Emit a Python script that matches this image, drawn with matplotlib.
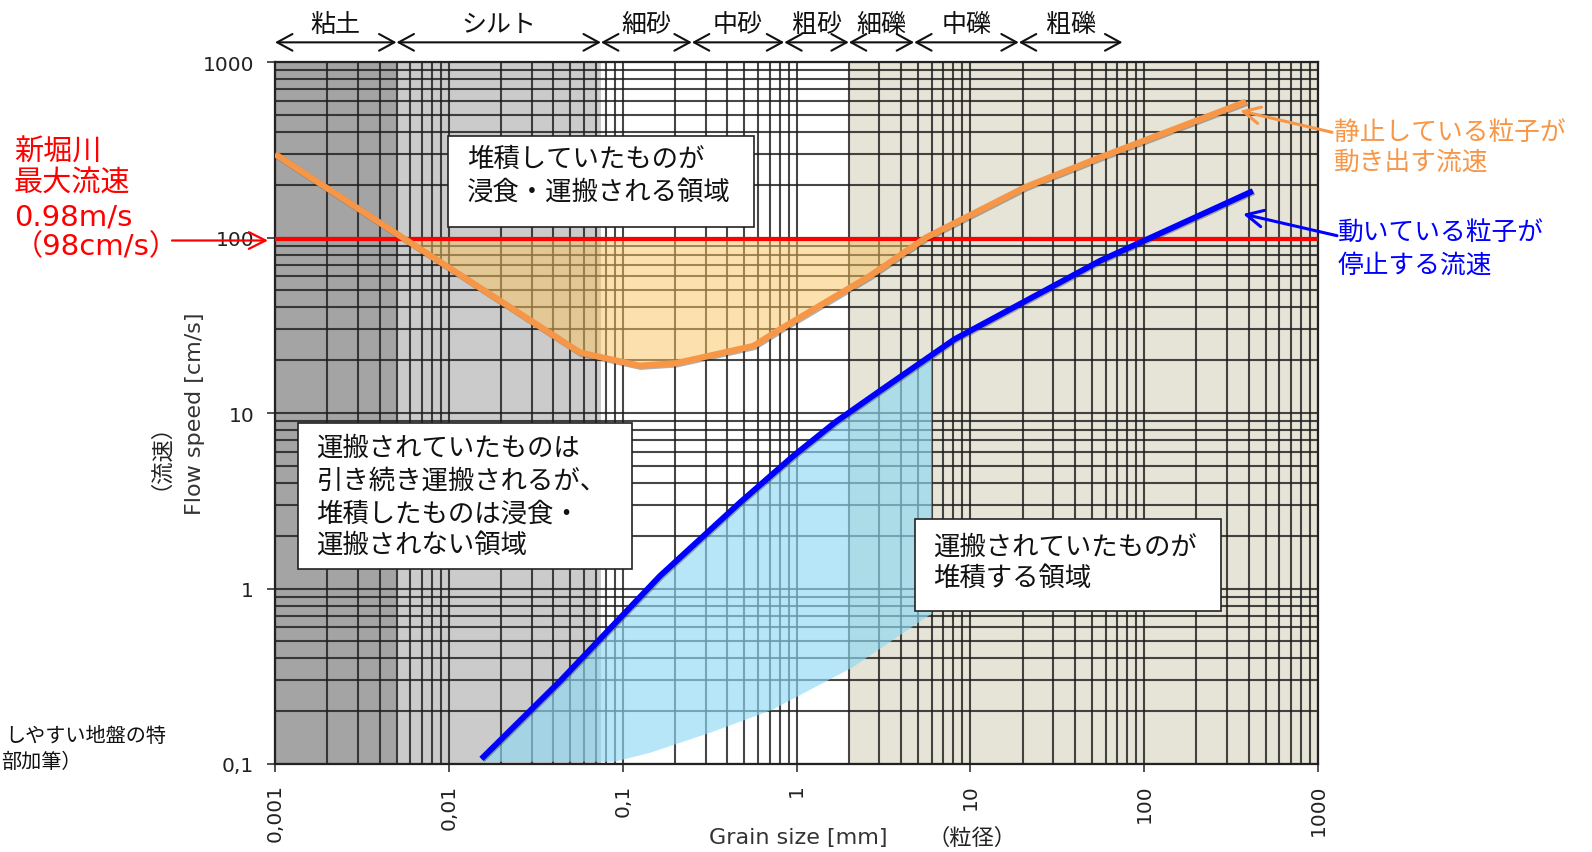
import numpy as np
import matplotlib
matplotlib.use("Agg")
import matplotlib.pyplot as plt
import matplotlib.patheffects as pe
from matplotlib.patches import Rectangle
from matplotlib.ticker import LogLocator, NullFormatter
from matplotlib.transforms import blended_transform_factory

plt.rcParams['font.family'] = ['DejaVu Sans', 'Noto Sans CJK JP']
JP = ['Noto Sans CJK JP', 'DejaVu Sans']

# ---- data -------------------------------------------------------------
# soil classes along the grain-size axis (mm)
class_bounds = [0.001, 0.005, 0.075, 0.25, 0.85, 2, 4.75, 19, 75]
class_names = ['粘土', 'シルト', '細砂', '中砂', '粗砂', '細礫', '中礫', '粗礫']

# shaded bands behind the grid
band_edges = [0.001, 0.005, 0.075, 2, 1000]
band_colors = ['#a4a4a4', '#cbcbcb', '#ffffff', '#e6e3d7']

# velocity at which resting particles start to move (erosion)
erosion_size = [0.001, 0.0054, 0.0568, 0.125, 0.202, 0.565, 0.805, 2.65, 5.57, 20.8, 55.8, 386]
erosion_speed = [299, 100, 22.1, 18.6, 19.2, 24.1, 30.0, 60.5, 100, 194, 286, 594]

# velocity at which moving particles come to rest (deposition)
deposition_size = [0.0154, 0.0437, 0.164, 0.473, 0.96, 1.68, 3.03, 8.1, 55.8, 422]
deposition_speed = [0.107, 0.297, 1.18, 3.09, 5.7, 8.9, 13.4, 26.3, 73.7, 184]

# lower edge of the deposition zone
settle_low_size = [0.0154, 0.09, 0.144, 0.32, 0.72, 2.1, 6.0]
settle_low_speed = [0.103, 0.103, 0.116, 0.151, 0.203, 0.355, 0.72]

# maximum flow speed of the river (cm/s)
river_max_speed = 98

x_ticks = [0.001, 0.01, 0.1, 1, 10, 100, 1000]
x_tick_labels = ['0,001', '0,01', '0,1', '1', '10', '100', '1000']
y_ticks = [0.1, 1, 10, 100, 1000]
y_tick_labels = ['0,1', '1', '10', '100', '1000']

# ---- helpers ----------------------------------------------------------
W, H = 1592, 853


def fx(px):
    return px / W


def fy(py):
    return 1 - py / H


def log_interp(x, xs, ys):
    return 10 ** np.interp(np.log10(x), np.log10(xs), np.log10(ys))


def log_crossings(xs, ys, level):
    lx, ly = np.log10(xs), np.log10(ys) - np.log10(level)
    out = []
    for i in range(len(xs) - 1):
        if ly[i] * ly[i + 1] < 0 or ly[i + 1] == 0:
            t = ly[i] / (ly[i] - ly[i + 1])
            out.append(10 ** (lx[i] + t * (lx[i + 1] - lx[i])))
    return out


# ---- figure -----------------------------------------------------------
fig = plt.figure(figsize=(W / 100, H / 100), dpi=100)
ax = fig.add_axes([fx(275), fy(765), (1318 - 275) / W, (765 - 63) / H])
ax.set_xscale('log')
ax.set_yscale('log')
ax.set_xlim(x_ticks[0], x_ticks[-1])
ax.set_ylim(y_ticks[0], y_ticks[-1])
ax.set_axisbelow(True)

for x0, x1, c in zip(band_edges[:-1], band_edges[1:], band_colors):
    ax.axvspan(x0, x1, color=c, zorder=0, lw=0)

ax.xaxis.set_minor_locator(LogLocator(base=10, subs=range(2, 10)))
ax.yaxis.set_minor_locator(LogLocator(base=10, subs=range(2, 10)))
ax.xaxis.set_minor_formatter(NullFormatter())
ax.yaxis.set_minor_formatter(NullFormatter())
ax.grid(which='both', color='#1e1e1e', lw=1.5, alpha=0.82)

ax.set_xticks(x_ticks)
ax.set_xticklabels(x_tick_labels, rotation=90)
ax.set_yticks(y_ticks)
ax.set_yticklabels(y_tick_labels)
ax.tick_params(which='major', direction='out', length=6, width=1.2,
               color='#333333', labelsize=14.5, labelcolor='#222222')
ax.tick_params(axis='x', pad=8)
ax.tick_params(axis='y', pad=9)
ax.tick_params(which='minor', length=0)
for s in ax.spines.values():
    s.set_color('#222222')
    s.set_linewidth(1.6)

# erosion zone below the river's max speed
cx = log_crossings(erosion_size, erosion_speed, river_max_speed)
inner = [(x, y) for x, y in zip(erosion_size, erosion_speed) if cx[0] < x < cx[1]]
fill_x = [cx[0]] + [p[0] for p in inner] + [cx[1]]
fill_y = [river_max_speed] + [p[1] for p in inner] + [river_max_speed]
ax.fill_between(fill_x, fill_y, river_max_speed, color='#fbc561', alpha=0.5,
                lw=0, zorder=2)

# deposition zone
right = settle_low_size[-1]
up = [(x, y) for x, y in zip(deposition_size, deposition_speed) if x < right]
up.append((right, log_interp(right, deposition_size, deposition_speed)))
poly_x = [p[0] for p in up] + settle_low_size[::-1]
poly_y = [p[1] for p in up] + settle_low_speed[::-1]
ax.fill(poly_x, poly_y, color='#8fd9f3', alpha=0.65, lw=0, zorder=2)

ax.axhline(river_max_speed, color='#ff0000', lw=3, zorder=3)

shadow = [pe.SimpleLineShadow(offset=(0.8, -0.8), shadow_color='#222222', alpha=0.35),
          pe.Normal()]
ax.plot(erosion_size, erosion_speed, color='#f79646', lw=4.5, zorder=4,
        solid_capstyle='butt', path_effects=shadow)
ax.plot(deposition_size, deposition_speed, color='#0000ff', lw=4.2, zorder=4,
        solid_capstyle='butt', path_effects=shadow)

# soil classes above the plot
bt = blended_transform_factory(ax.transData, ax.transAxes)
for b0, b1, name in zip(class_bounds[:-1], class_bounds[1:], class_names):
    ax.annotate('', xy=(b1, 1.028), xytext=(b0, 1.028), xycoords=bt, textcoords=bt,
                arrowprops=dict(arrowstyle='<->,head_length=1.1,head_width=0.6',
                                lw=1.5, color='#111111', shrinkA=0, shrinkB=0),
                annotation_clip=False)
    ax.text(np.sqrt(b0 * b1), 1.054, name, transform=bt, ha='center', va='center',
            fontsize=18, family=JP, color='#111111')

# axis titles
fig.text(fx(195), fy(414), 'Flow speed [cm/s]', rotation=90, ha='center', va='center',
         fontsize=16, color='#333333')
fig.text(fx(149), fy(446), '（流速）', rotation=90, ha='center', va='center',
         fontsize=16, family=JP, color='#222222')
fig.text(fx(798), fy(838), 'Grain size [mm]', ha='center', va='center',
         fontsize=16, color='#333333')
fig.text(fx(972), fy(838), '（粒径）', ha='center', va='center',
         fontsize=16, family=JP, color='#222222')

# river maximum speed note
red_lines = [('新堀川', 14, 153), ('最大流速', 14, 184), ('0.98m/s', 14, 217),
             ('（98cm/s）', 14, 247)]
for s, x, y in red_lines:
    fig.text(fx(x), fy(y), s, ha='left', va='center', fontsize=21, color='#ff0000')
ax.annotate('', xy=(fx(268), fy(241.5)), xytext=(fx(172), fy(241.5)),
            xycoords='figure fraction', textcoords='figure fraction',
            arrowprops=dict(arrowstyle='->,head_length=1.2,head_width=0.6',
                            lw=1.6, color='#ff0000', shrinkA=0, shrinkB=0),
            annotation_clip=False)

# curve captions
for s, y in [('静止している粒子が', 133), ('動き出す流速', 164)]:
    fig.text(fx(1334), fy(y), s, ha='left', va='center', fontsize=18.5,
             family=JP, color='#f79646')
for s, y in [('動いている粒子が', 233), ('停止する流速', 266)]:
    fig.text(fx(1338), fy(y), s, ha='left', va='center', fontsize=18.5,
             family=JP, color='#0000ff')
ax.annotate('', xy=(fx(1240), fy(111.7)), xytext=(fx(1332), fy(133.3)),
            xycoords='figure fraction', textcoords='figure fraction',
            arrowprops=dict(arrowstyle='->,head_length=1.2,head_width=0.6',
                            lw=2.2, color='#f79646', shrinkA=0, shrinkB=0),
            annotation_clip=False)
ax.annotate('', xy=(fx(1243), fy(215)), xytext=(fx(1337), fy(236.7)),
            xycoords='figure fraction', textcoords='figure fraction',
            arrowprops=dict(arrowstyle='->,head_length=1.2,head_width=0.6',
                            lw=2.2, color='#0000ff', shrinkA=0, shrinkB=0),
            annotation_clip=False)

# region boxes
boxes = [
    ((448, 137, 754, 228), ['堆積していたものが', '浸食・運搬される領域'], 467, [159, 192]),
    ((298, 424, 632, 570), ['運搬されていたものは', '引き続き運搬されるが、',
                            '堆積したものは浸食・', '運搬されない領域'], 316, [448, 481, 514, 545]),
    ((915, 520, 1221, 612), ['運搬されていたものが', '堆積する領域'], 933, [547, 578]),
]
for (x0, y0, x1, y1), lines, tx, tys in boxes:
    fig.add_artist(Rectangle((fx(x0), fy(y1)), (x1 - x0) / W, (y1 - y0) / H,
                             transform=fig.transFigure, fc='white', ec='#222222',
                             lw=1.2, zorder=5))
    for s, ty in zip(lines, tys):
        fig.text(fx(tx), fy(ty), s, ha='left', va='center', fontsize=19,
                 family=JP, color='#111111', zorder=6)

# source note at the lower left
fig.text(fx(5), fy(736), 'しやすい地盤の特', ha='left', va='center',
         fontsize=14.5, family=JP, color='#111111')
fig.text(fx(1), fy(762), '部加筆）', ha='left', va='center',
         fontsize=14.5, family=JP, color='#111111')

fig.savefig('out.png', dpi=100, facecolor='white')
